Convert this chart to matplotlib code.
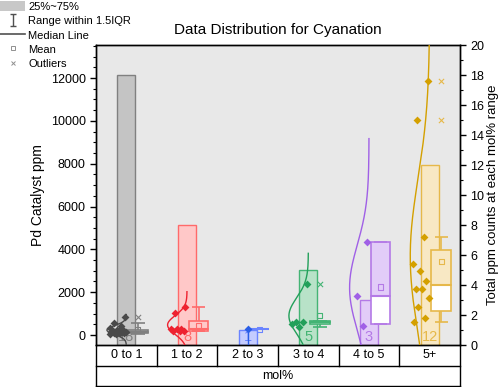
import numpy as np
import matplotlib
matplotlib.use("Agg")
import matplotlib.pyplot as plt
from matplotlib.patches import Patch
from matplotlib.lines import Line2D
from matplotlib.path import Path
import matplotlib.transforms as mtransforms

plt.rcParams['font.family'] = ['Liberation Sans', 'DejaVu Sans']

# ---------------- data ----------------
categories = ["0 to 1", "1 to 2", "2 to 3", "3 to 4", "4 to 5", "5+"]
counts = [18, 8, 1, 5, 3, 12]

pts_0_1 = [855, 575, 435, 340, 250, 230, 200, 180, 160, 150, 140, 130, 120, 100, 90, 80, 60, 40]
pts_1_2 = [1310, 1040, 300, 280, 265, 200, 190, 170]
pts_2_3 = [265]
pts_3_4 = [2380, 610, 610, 500, 390]
pts_4_5 = [4360, 1840, 435]
pts_5p = [11880, 10030, 4590, 3330, 3000, 2540, 2160, 2160, 1740, 1290, 810, 590]

box_q1 = [95, 200, 265, 510, 500, 1140]
box_med = [145, 272, 265, 610, 1840, 2340]
box_q3 = [240, 650, 265, 660, 4360, 3970]
whisk_lo = [40, 170, 265, 390, 500, 620]
whisk_hi = [575, 1310, 265, 660, 4360, 4590]
means = [230, 435, 265, 900, 2240, 3430]
outliers_0_1 = [830]
outliers_3_4 = [2380]
outliers_5p = [10030, 11880]

bar_fill = ["#c4c4c4", "#ffc8c8", "#c4ccff", "#b8e2c8", "#e2ccf8", "#f8e8c4"]
bar_edge = ["#808080", "#ff6a6a", "#6a84ff", "#44b474", "#b47ae6", "#e6b84a"]
mark_col = ["#4a4a4a", "#ee2230", "#2a5ee6", "#22a05a", "#a060e6", "#d4a000"]

points = [pts_0_1, pts_1_2, pts_2_3, pts_3_4, pts_4_5, pts_5p]
outliers = [outliers_0_1, [], [], outliers_3_4, [], outliers_5p]

# ---------------- figure ----------------
fig = plt.figure(figsize=(5.0, 3.87), dpi=100)
ax2 = fig.add_axes([0.192, 0.1085, 0.728, 0.775])
ax = ax2.twinx()
ax.yaxis.tick_left()
ax.yaxis.set_label_position("left")
ax2.yaxis.tick_right()
ax2.yaxis.set_label_position("right")
ax2.set_facecolor("#e8e8e8")
ax.patch.set_visible(False)

x = np.arange(len(categories))
ax2.bar(x, counts, width=0.3, color=bar_fill, edgecolor=bar_edge, linewidth=1.0, zorder=1)
ax2.set_ylim(0, 20)
ax2.set_yticks(np.arange(0, 21, 2))
ax2.set_yticks(np.arange(0, 21, 1), minor=True)
ax2.set_ylabel("Total ppm counts at each mol% range", fontsize=9.5, labelpad=2)

for i in x:
    ax2.text(i, 0.1, str(counts[i]), color=bar_edge[i], ha='center', va='bottom', fontsize=10.5, zorder=3)

ylo, yhi = -467, 13541
ax.set_ylim(ylo, yhi)
ax.set_xlim(-0.5, 5.5)
ax2.set_xlim(-0.5, 5.5)
ax.set_yticks(np.arange(0, 12001, 2000))
ax.set_yticks(np.arange(0, 13501, 500), minor=True)
ax.set_ylabel("Pd Catalyst ppm", fontsize=10)

boff = 0.19
bw = 0.32
for i in x:
    vals = np.array(points[i], dtype=float)
    c = mark_col[i]
    # normal distribution curve (half violin, leftwards)
    if len(vals) > 1:
        m, s = vals.mean(), vals.std(ddof=1)
        yy = np.linspace(m - 3.5 * s, m + 3.5 * s, 300)
        pdf = np.exp(-0.5 * ((yy - m) / s) ** 2)
        ax.plot(i - 0.32 * pdf, yy, color=c, lw=1.0, zorder=4)
    else:
        ax.vlines(i, ylo, vals[0], color=c, lw=1.0, zorder=4)
    # points, jittered to the left of the centre
    n = len(vals)
    jit = -0.28 * ((np.arange(n) * 0.618 + 0.1) % 1.0)
    if n == 1:
        jit = np.array([0.0])
    ax.scatter(i + jit, vals, s=16, marker='D', color=c, zorder=6, linewidths=0)
    # box
    xc = i + boff
    ax.bar(xc, box_med[i] - box_q1[i], bottom=box_q1[i], width=bw, color="white",
           edgecolor=bar_edge[i], lw=1.2, zorder=3)
    ax.bar(xc, box_q3[i] - box_med[i], bottom=box_med[i], width=bw, color=bar_fill[i],
           edgecolor=bar_edge[i], lw=1.2, zorder=3)
    ax.hlines(box_med[i], xc - bw / 2, xc + bw / 2, color=bar_edge[i], lw=1.5, zorder=5)
    # whiskers
    ax.vlines(xc, box_q3[i], whisk_hi[i], color=bar_edge[i], lw=1.2, zorder=5)
    ax.vlines(xc, whisk_lo[i], box_q1[i], color=bar_edge[i], lw=1.2, zorder=5)
    ax.hlines([whisk_lo[i], whisk_hi[i]], xc - 0.11, xc + 0.11, color=bar_edge[i], lw=1.2, zorder=5)
    ax.scatter([xc], [means[i]], marker='s', s=14, facecolor='none', edgecolor=bar_edge[i], lw=0.8, zorder=6)
    if outliers[i]:
        ax.scatter([xc] * len(outliers[i]), outliers[i], marker='x', s=14, color=bar_edge[i], lw=0.8, zorder=6)

for a in (ax, ax2):
    a.tick_params(axis='both', which='major', direction='out', length=4, width=1, labelsize=9)
    a.tick_params(axis='both', which='minor', direction='out', length=2.5, width=0.8)
    for sp in a.spines.values():
        sp.set_linewidth(1.0)
ax.set_xticks([])
ax2.set_xticks([])

ax.set_title("Data Distribution for Cyanation", fontsize=11, pad=8)

# table below axes
trans = mtransforms.blended_transform_factory(ax.transData, ax.transAxes)
r1, r2 = -0.069, -0.137
for yy in (r1, r2):
    ax.plot([-0.5, 5.5], [yy, yy], transform=trans, color='black', lw=1.0, clip_on=False)
ax.plot([-0.5, -0.5], [0, r2], transform=trans, color='black', lw=1.0, clip_on=False)
ax.plot([5.5, 5.5], [0, r2], transform=trans, color='black', lw=1.0, clip_on=False)
for k in range(len(categories) - 1):
    ax.plot([k + 0.5, k + 0.5], [0, r1], transform=trans, color='black', lw=1.0, clip_on=False)
for i, lab in enumerate(categories):
    ax.text(i, r1 / 2, lab, transform=trans, ha='center', va='center', fontsize=9)
ax.text(2.5, (r1 + r2) / 2, "mol%", transform=trans, ha='center', va='center', fontsize=9)

# legend
ibeam = Path([(-0.5, 1), (0.5, 1), (0, 1), (0, -1), (-0.5, -1), (0.5, -1)],
             [Path.MOVETO, Path.LINETO, Path.MOVETO, Path.LINETO, Path.MOVETO, Path.LINETO])
handles = [
    Patch(facecolor="#c8c8c8", edgecolor="none"),
    Line2D([], [], ls='none', marker=ibeam, markersize=9, color="#505050", mew=1.0),
    Line2D([], [], color="#505050", lw=1.2),
    Line2D([], [], ls='none', marker='s', markersize=3.5, mfc='none', mec="#909090", mew=0.7),
    Line2D([], [], ls='none', marker='x', markersize=3.5, color="#909090", mew=0.7),
]
labels = ["25%~75%", "Range within 1.5IQR", "Median Line", "Mean", "Outliers"]
fig.legend(handles, labels, loc='upper left', bbox_to_anchor=(0.0, 0.997), frameon=False,
           fontsize=8, handlelength=2.25, handleheight=1.05, handletextpad=0.3,
           labelspacing=0.3, borderpad=0.0, borderaxespad=0.0)

fig.savefig("out.png", dpi=100, facecolor="white")
